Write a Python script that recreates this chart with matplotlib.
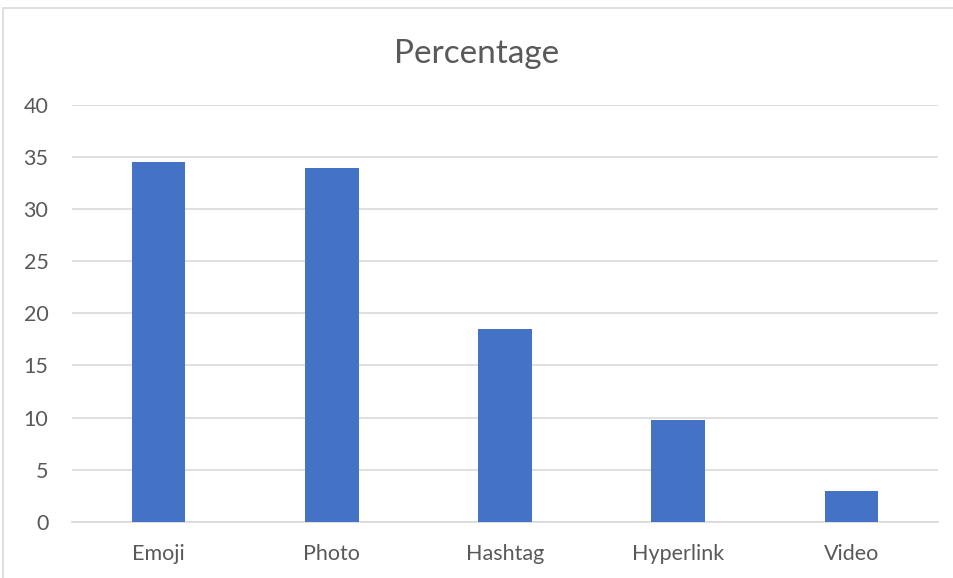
import matplotlib.pyplot as plt
from matplotlib.patches import Rectangle

categories = ["Emoji", "Photo", "Hashtag", "Hyperlink", "Video"]
values = [34.5, 34.0, 18.5, 9.8, 2.9]
yticks = [0, 5, 10, 15, 20, 25, 30, 35, 40]

plt.rcParams["font.family"] = ["Lato", "DejaVu Sans"]
text_color = "#595959"
grid_color = "#D9D9D9"

fig = plt.figure(figsize=(9.54, 5.78), dpi=100)
ax = fig.add_axes([0.0755, 0.0974, 0.9077, 0.7209])

x = range(len(categories))
ax.bar(x, values, width=0.31, color="#4472C4", zorder=3)

ax.set_xlim(-0.5, len(categories) - 0.5)
ax.set_ylim(0, 40)
ax.set_yticks(yticks)
ax.set_xticks(list(x))
ax.set_xticklabels(categories)
ax.tick_params(axis="both", length=0, labelsize=15.5, colors=text_color)
ax.tick_params(axis="x", pad=16)
ax.tick_params(axis="y", pad=17)

ax.grid(axis="y", color=grid_color, linewidth=1.2, zorder=0)
for side in ["top", "right", "left"]:
    ax.spines[side].set_visible(False)
ax.spines["bottom"].set_color(grid_color)
ax.spines["bottom"].set_linewidth(1.2)

fig.text(0.5, 0.907, "Percentage", ha="center", va="center",
         fontsize=24, color=text_color)

# light chart frame, clipped at right and bottom like the source
fig.patches.append(Rectangle((3 / 954, -0.1), 1.1, 1 - 8 / 578 + 0.1,
                             transform=fig.transFigure, fill=False,
                             edgecolor=grid_color, linewidth=1.2))

plt.savefig("out.png", dpi=100)
